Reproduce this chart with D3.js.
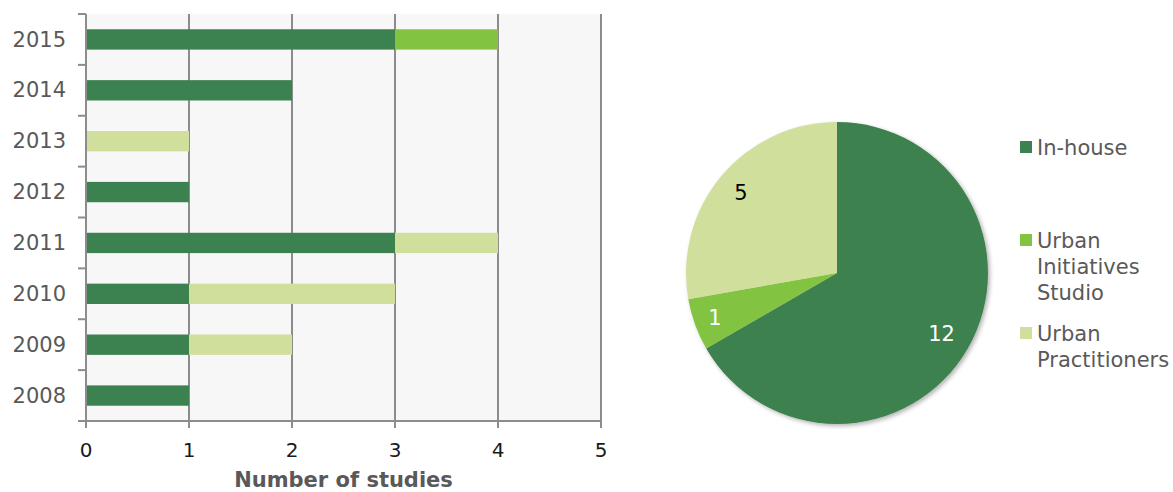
<!DOCTYPE html>
<html><head><meta charset="utf-8">
<script src="https://cdn.jsdelivr.net/npm/d3@7"></script>
<style>body{margin:0;background:#fff}svg{display:block;font-family:"DejaVu Sans",Verdana,sans-serif}</style>
</head><body><svg id="c" width="1173" height="492"></svg>
<script>
const years = ["2015","2014","2013","2012","2011","2010","2009","2008"];
const inHouse = [3,2,0,1,3,1,1,1];
const urbanInitiatives = [1,0,0,0,0,0,0,0];
const urbanPractitioners = [0,0,1,0,1,2,1,0];
const seriesNames = ["In-house","Urban Initiatives Studio","Urban Practitioners"];
const pieValues = [12,1,5];
const xTicks = [0,1,2,3,4,5];
const colors = ["#3c8150","#83c342","#d1df9d"];

const svg = d3.select("#c");
const m = {l:86,r:601,t:14,b:421};
const x = d3.scaleLinear().domain([0,5]).range([m.l,m.r]);
const y = d3.scaleBand().domain(years).range([m.t,m.b]).paddingInner(0.6).paddingOuter(0.3);
const yb = d3.scaleBand().domain(years).range([m.t,m.b]);

svg.append("rect").attr("x",m.l).attr("y",m.t).attr("width",m.r-m.l).attr("height",m.b-m.t).attr("fill","#f7f7f7");
svg.append("g").selectAll("line").data(xTicks.slice(1)).join("line")
  .attr("x1",d=>x(d)).attr("x2",d=>x(d)).attr("y1",m.t).attr("y2",m.b)
  .attr("stroke","#8c8c8c").attr("stroke-width",2);

const table = years.map((yr,i)=>({year:yr,s0:inHouse[i],s1:urbanInitiatives[i],s2:urbanPractitioners[i]}));
const stack = d3.stack().keys(["s0","s1","s2"])(table);
svg.append("g").selectAll("g").data(stack).join("g").attr("fill",(d,i)=>colors[i])
  .selectAll("rect").data(d=>d).join("rect")
  .attr("x",d=>x(d[0])).attr("width",d=>x(d[1])-x(d[0]))
  .attr("y",d=>y(d.data.year)).attr("height",y.bandwidth());

const ya = svg.append("g");
ya.append("line").attr("x1",m.l).attr("x2",m.l).attr("y1",m.t).attr("y2",m.b).attr("stroke","#8c8c8c").attr("stroke-width",2);
const yTickPos = years.map(d=>yb(d)).concat([m.b]);
ya.selectAll("line.t").data(yTickPos).join("line").attr("class","t")
  .attr("x1",m.l-8).attr("x2",m.l).attr("y1",d=>d).attr("y2",d=>d).attr("stroke","#8c8c8c").attr("stroke-width",2);
ya.selectAll("text").data(years).join("text")
  .attr("x",66).attr("y",d=>yb(d)+yb.bandwidth()/2).attr("dy","0.34em")
  .attr("text-anchor","end").attr("font-size",21).attr("fill","#595959").text(d=>d);

const xa = svg.append("g");
xa.append("line").attr("x1",m.l).attr("x2",m.r).attr("y1",m.b).attr("y2",m.b).attr("stroke","#8c8c8c").attr("stroke-width",2);
xa.selectAll("line.t").data(xTicks).join("line").attr("class","t")
  .attr("x1",d=>x(d)).attr("x2",d=>x(d)).attr("y1",m.b).attr("y2",m.b+7).attr("stroke","#8c8c8c").attr("stroke-width",2);
xa.selectAll("text").data(xTicks).join("text")
  .attr("x",d=>x(d)).attr("y",457).attr("text-anchor","middle").attr("font-size",20).attr("fill","#1a1a1a").text(d=>d);
svg.append("text").attr("x",(m.l+m.r)/2).attr("y",487).attr("text-anchor","middle")
  .attr("font-size",21).attr("font-weight","bold").attr("fill","#595959").text("Number of studies");

const defs = svg.append("defs");
const f = defs.append("filter").attr("id","sh").attr("x","-20%").attr("y","-20%").attr("width","140%").attr("height","140%");
f.append("feDropShadow").attr("dx",2).attr("dy",2).attr("stdDeviation",2).attr("flood-color","#000").attr("flood-opacity",0.3);
const cx=837, cy=273, r=151;
const pie = d3.pie().sort(null).value(d=>d)(pieValues);
const arc = d3.arc().innerRadius(0).outerRadius(r);
const pg = svg.append("g").attr("transform",`translate(${cx},${cy})`);
pg.append("g").attr("filter","url(#sh)").selectAll("path").data(pie).join("path")
  .attr("d",arc).attr("fill",(d,i)=>colors[i]);
const labelColors = ["#fff","#fff","#000"];
const labR = [0.80,0.86,0.83];
pg.selectAll("text").data(pie).join("text")
  .attr("transform",(d,i)=>`translate(${d3.arc().innerRadius(r*labR[i]).outerRadius(r*labR[i]).centroid(d)})`)
  .attr("text-anchor","middle").attr("dy","0.36em").attr("font-size",21)
  .attr("fill",(d,i)=>labelColors[i]).text(d=>d.data);

const legLines = [["In-house"],["Urban","Initiatives","Studio"],["Urban","Practitioners"]];
const legY = [147,240,333];
const lg = svg.append("g");
legLines.forEach((lines,i)=>{
  lg.append("rect").attr("x",1020).attr("y",legY[i]-6).attr("width",12).attr("height",12).attr("fill",colors[i]);
  const t = lg.append("text").attr("x",1037).attr("y",legY[i]).attr("font-size",21).attr("fill","#595959");
  lines.forEach((ln,j)=>t.append("tspan").attr("x",1037).attr("dy",j===0?"0.36em":"26").text(ln));
});
</script></body></html>
